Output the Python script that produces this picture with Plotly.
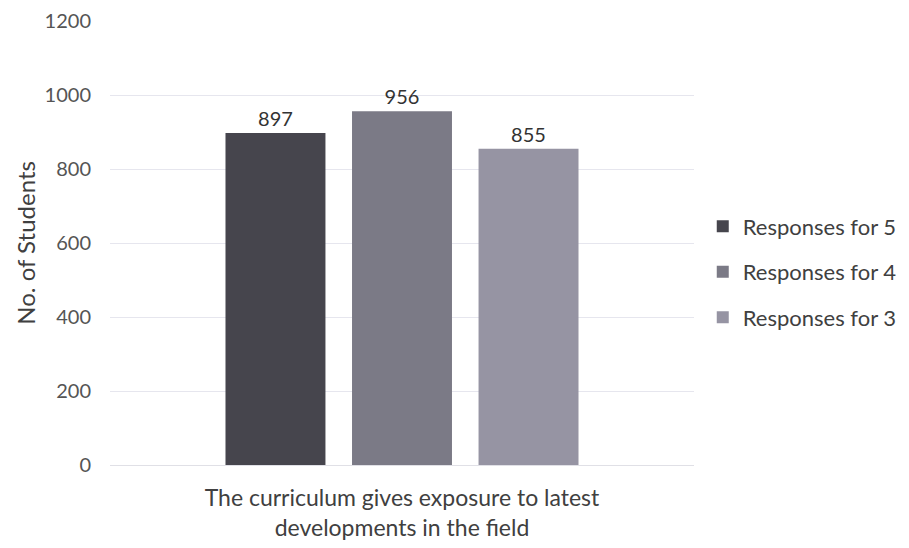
import plotly.graph_objects as go

category = ["The curriculum gives exposure to latest<br>developments in the field"]
series_names = ["Responses for 5", "Responses for 4", "Responses for 3"]
series_values = [[897], [956], [855]]
y_ticks = [0, 200, 400, 600, 800, 1000, 1200]
y_title = "No. of Students"

colors = ["#46454d", "#7b7a86", "#9694a3"]

fig = go.Figure()
for i, (name, vals) in enumerate(zip(series_names, series_values)):
    fig.add_trace(go.Bar(
        x=category, y=vals, name=name,
        marker=dict(color=colors[i], line=dict(width=0)),
        text=[str(v) for v in vals], textposition="outside",
        textfont=dict(size=20, color="#333333", family="Lato"),
        cliponaxis=False,
        legendgroup=name,
    ))

fig.add_annotation(
    text=y_title, xref="paper", yref="paper", x=-0.146, y=0.5,
    xanchor="center", yanchor="middle", textangle=-90, showarrow=False,
    borderpad=0,
    font=dict(size=24, color="#404040", family="Lato"),
)

fig.update_layout(
    width=901, height=540,
    paper_bgcolor="white", plot_bgcolor="white",
    margin=dict(l=102, r=215, t=13, b=83, autoexpand=False),
    barmode="group", bargap=0.35, bargroupgap=0.21,
    font=dict(family="Lato", color="#404040"),
    showlegend=True,
    legend=dict(x=1.015, xanchor="left", y=0.435, yanchor="middle",
                font=dict(size=22, color="#404040"),
                traceorder="grouped", tracegroupgap=14,
                itemwidth=30),
    xaxis=dict(showgrid=False, showline=False, ticks="", automargin=False,
               tickfont=dict(size=23, color="#404040"), ticklabelstandoff=17),
    yaxis=dict(range=[0, 1200], tickvals=y_ticks, automargin=False,
               showgrid=True, gridcolor="#e6e6ee", gridwidth=1,
               zeroline=True, zerolinecolor="#e0e0e6", zerolinewidth=1,
               tickfont=dict(size=20, color="#555555"),
               ticks="", ticklen=0, ticklabelstandoff=18),
)

fig.write_html("out.html")
